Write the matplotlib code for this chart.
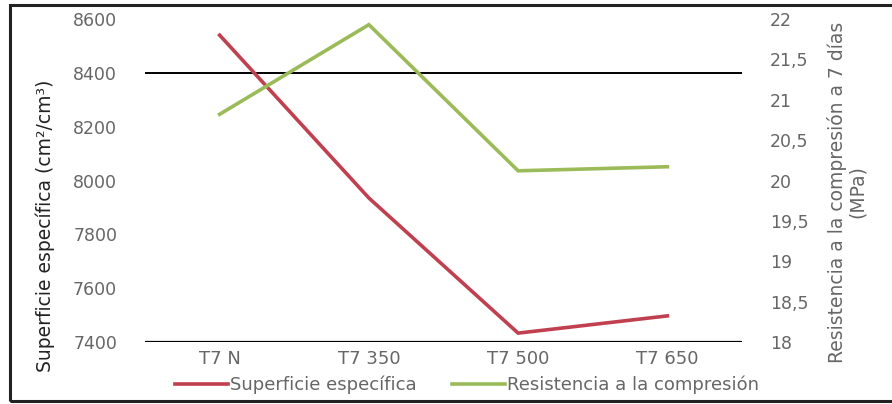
import matplotlib
matplotlib.use("Agg")
import matplotlib.pyplot as plt
from matplotlib.lines import Line2D
from matplotlib.patches import Rectangle

categories = ["T7 N", "T7 350", "T7 500", "T7 650"]
superficie = [8540, 7935, 7433, 7497]
resistencia = [20.82, 21.93, 20.12, 20.17]

left_ticks = [7400, 7600, 7800, 8000, 8200, 8400, 8600]
right_ticks = [18, 18.5, 19, 19.5, 20, 20.5, 21, 21.5, 22]
right_labels = ["18", "18,5", "19", "19,5", "20", "20,5", "21", "21,5", "22"]

RED = "#C0404F"
GREEN = "#9BBB59"
TEXT = "#666666"

plt.rcParams["font.family"] = ["DejaVu Sans"]

fig = plt.figure(figsize=(8.92, 4.04), dpi=100)
ax = fig.add_axes([145 / 892, 62 / 404, 597 / 892, 323 / 404])
ax2 = ax.twinx()

x = list(range(len(categories)))

# -------------------------
# lines
# -------------------------
ax.plot(x, superficie, color=RED, linewidth=2.6, solid_joinstyle="miter", zorder=3)
ax2.plot(x, resistencia, color=GREEN, linewidth=2.6, solid_joinstyle="miter", zorder=3)

# -------------------------
# axes
# -------------------------
ax.set_xlim(-0.5, len(categories) - 0.5)
ax.set_ylim(7400, 8600)
ax2.set_ylim(18, 22)

ax.set_xticks(x)
ax.set_xticklabels(categories)
ax.set_yticks(left_ticks)
ax.set_yticklabels([str(t) for t in left_ticks])
ax2.set_yticks(right_ticks)
ax2.set_yticklabels(right_labels)

for a in (ax, ax2):
    for s in a.spines.values():
        s.set_visible(False)
ax.tick_params(axis="y", length=0, pad=20, labelsize=12.5, labelcolor=TEXT)
ax.tick_params(axis="x", length=0, pad=6, labelsize=13, labelcolor=TEXT)
ax2.tick_params(axis="y", length=0, pad=20, labelsize=12.5, labelcolor=TEXT)

# only the 8400 gridline survives plus the baseline
ax.axhline(8400, color="black", linewidth=1.4, zorder=1)
ax.axhline(7400, color="black", linewidth=1.6, zorder=1)

# -------------------------
# axis titles
# -------------------------
fig.text(45 / 892, 1 - 226 / 404, "Superficie específica (cm²/cm³)", rotation=90,
         ha="center", va="center", fontsize=13.5, color="#222222")
fig.text(847 / 892, 1 - 192 / 404, "Resistencia a la compresión a 7 días\n(MPa)",
         rotation=90, ha="center", va="center", fontsize=13.5, color=TEXT,
         multialignment="center", linespacing=1.05)

# -------------------------
# legend
# -------------------------
handles = [Line2D([], [], color=RED, linewidth=2.6),
           Line2D([], [], color=GREEN, linewidth=2.6)]
fig.legend(handles, ["Superficie específica", "Resistencia a la compresión"],
           loc="center", bbox_to_anchor=(467 / 892, 1 - 385 / 404), ncol=2,
           frameon=False, fontsize=13, labelcolor=TEXT, handlelength=2.9,
           handletextpad=0.1, columnspacing=2.0)

# -------------------------
# outer frame
# -------------------------
fig.patches.append(Rectangle((10 / 892, 3 / 404), 1.0, 396 / 404, transform=fig.transFigure,
                             fill=False, edgecolor="#222222", linewidth=2.2))

fig.savefig("out.png", dpi=100)
